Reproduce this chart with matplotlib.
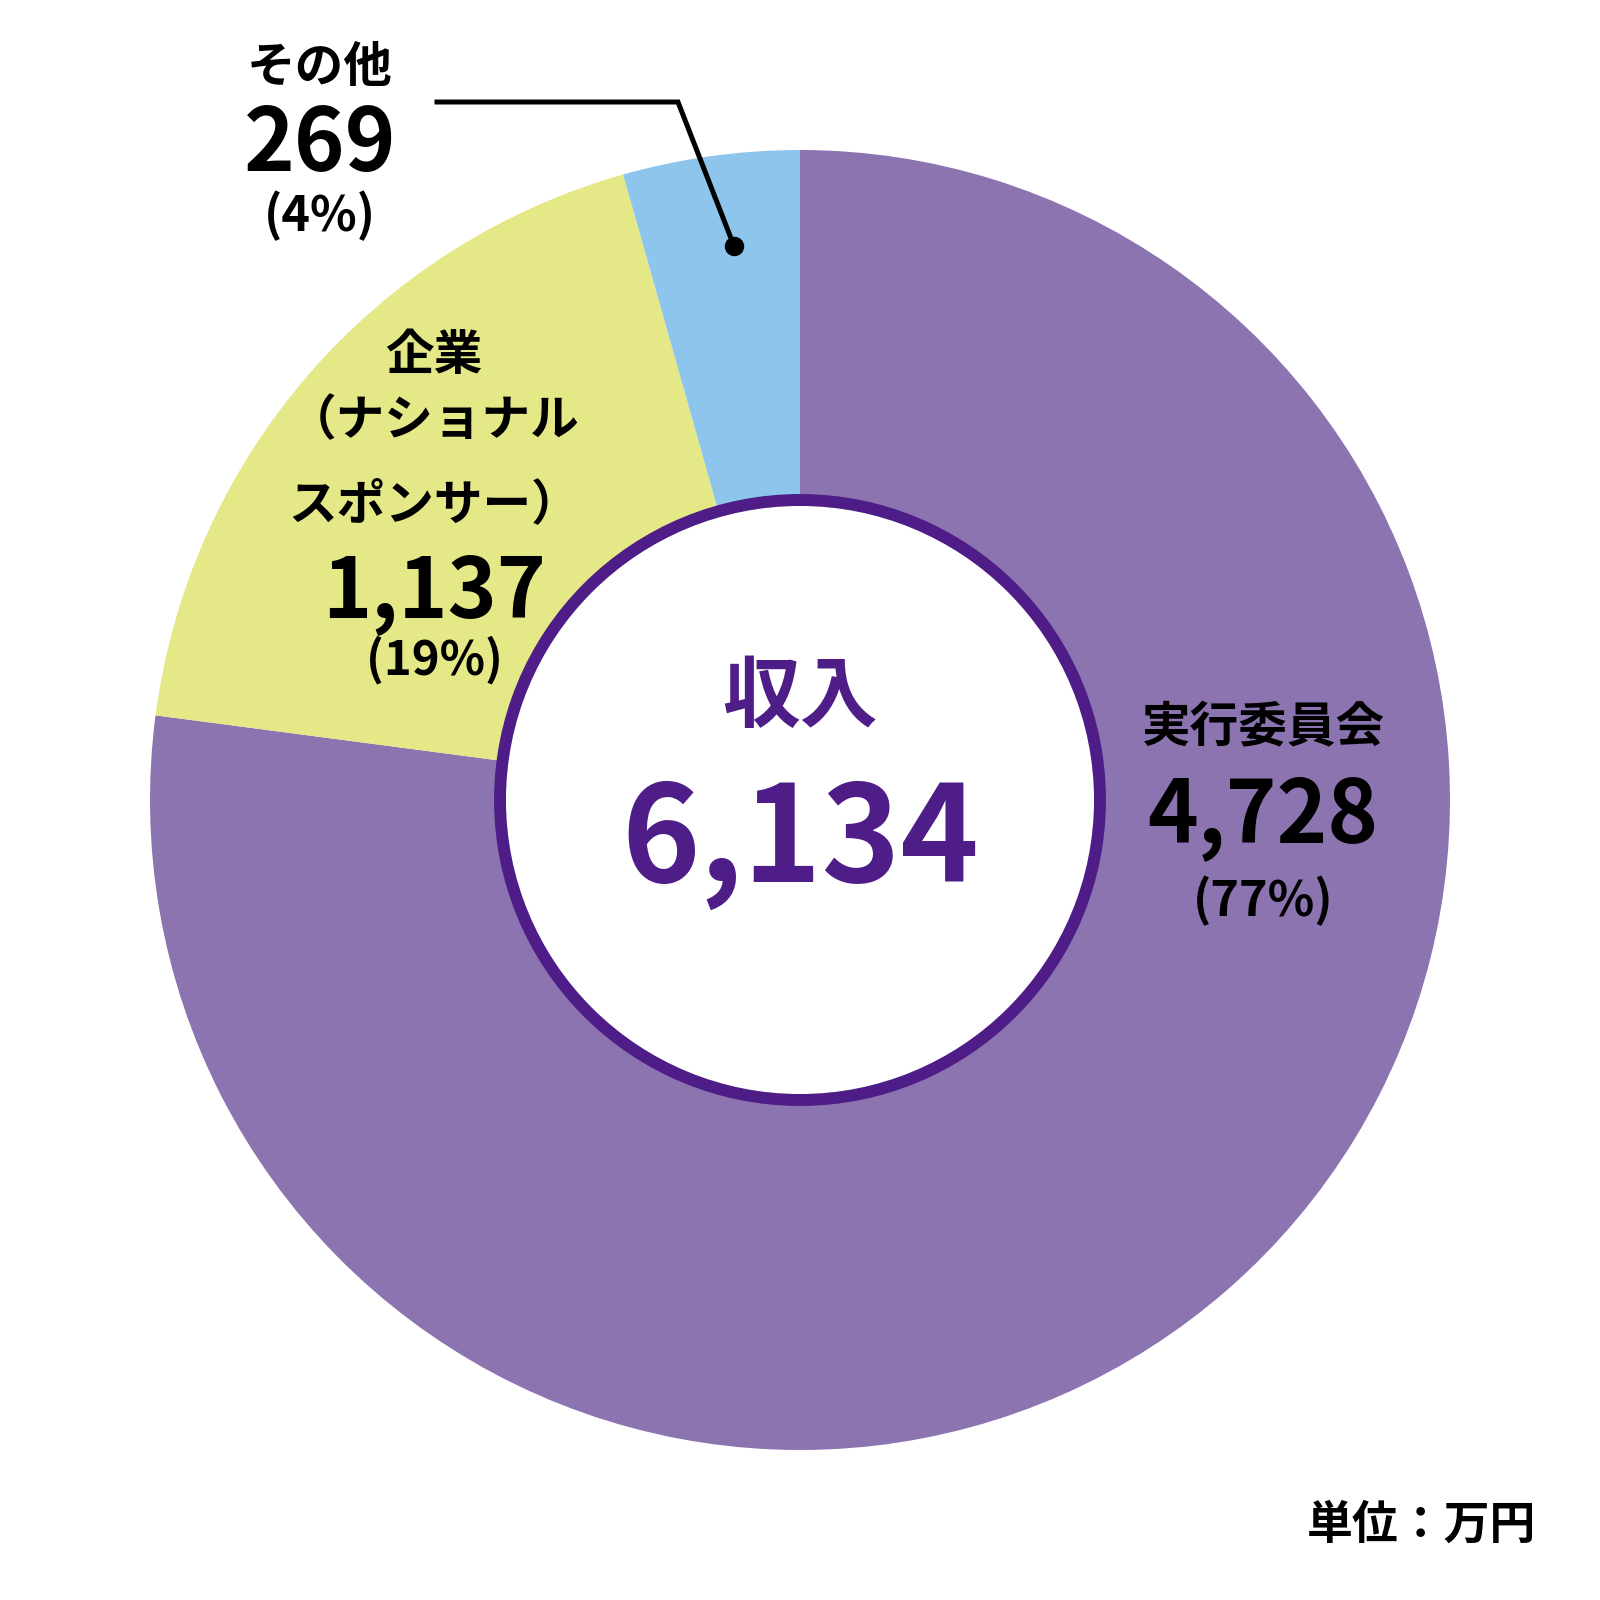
import matplotlib.pyplot as plt
from matplotlib.patches import Circle

plt.rcParams['font.family'] = ['Noto Sans CJK JP', 'DejaVu Sans']

categories = ['実行委員会', '企業\n（ナショナル\nスポンサー）', 'その他']
values = [4728, 1137, 269]
colors = ['#8B74AF', '#E5E887', '#8DC5EC']
dark = '#4E1D87'
total = sum(values)
pcts = [round(v / total * 100) for v in values]

fig = plt.figure(figsize=(16, 16), dpi=100)
ax = fig.add_axes([0, 0, 1, 1])

# donut (y axis is flipped, so clockwise on screen = counterclock in data)
ax.pie(values, colors=colors, startangle=-90, counterclock=True,
       center=(800, 800), radius=650, frame=True,
       wedgeprops=dict(linewidth=0))
ax.set_xlim(0, 1600)
ax.set_ylim(1600, 0)
ax.axis('off')
ax.add_patch(Circle((800, 800), 300, facecolor='white', edgecolor=dark,
                    linewidth=8.6, zorder=5))

# center
ax.text(800, 698, '収入', color=dark, fontsize=56, fontweight='bold',
        ha='center', va='center', zorder=6)
ax.text(800, 843, f'{total:,}', color=dark, fontsize=96, fontweight='bold',
        ha='center', va='center', zorder=6)

def label(x, ys, name_lines, v, p, vsize=62, psize=35):
    for yy, s in zip(ys[:-2], name_lines):
        ax.text(x, yy, s, fontsize=35, fontweight='bold', ha='center', va='center', zorder=6)
    ax.text(x, ys[-2], f'{v:,}', fontsize=vsize, fontweight='bold', ha='center', va='center', zorder=6)
    ax.text(x, ys[-1], f'({p}%)', fontsize=psize, fontweight='bold', ha='center', va='center', zorder=6)

label(1263, [727, 817, 901], ['実行委員会'], values[0], pcts[0])
label(434, [355, 421, 505, 594, 660], categories[1].split('\n'), values[1], pcts[1], vsize=60, psize=34)
label(320, [68, 146, 216], ['その他'], values[2], pcts[2])

# leader line for その他
ax.plot([437, 678, 734], [102, 102, 246], color='black', linewidth=3.6, zorder=6,
        solid_joinstyle='miter')
ax.plot([734], [246], 'o', color='black', markersize=13, zorder=6)

ax.text(1536, 1526, '単位：万円', fontsize=33, fontweight='bold', ha='right', va='center')

fig.savefig('out.png', dpi=100)
